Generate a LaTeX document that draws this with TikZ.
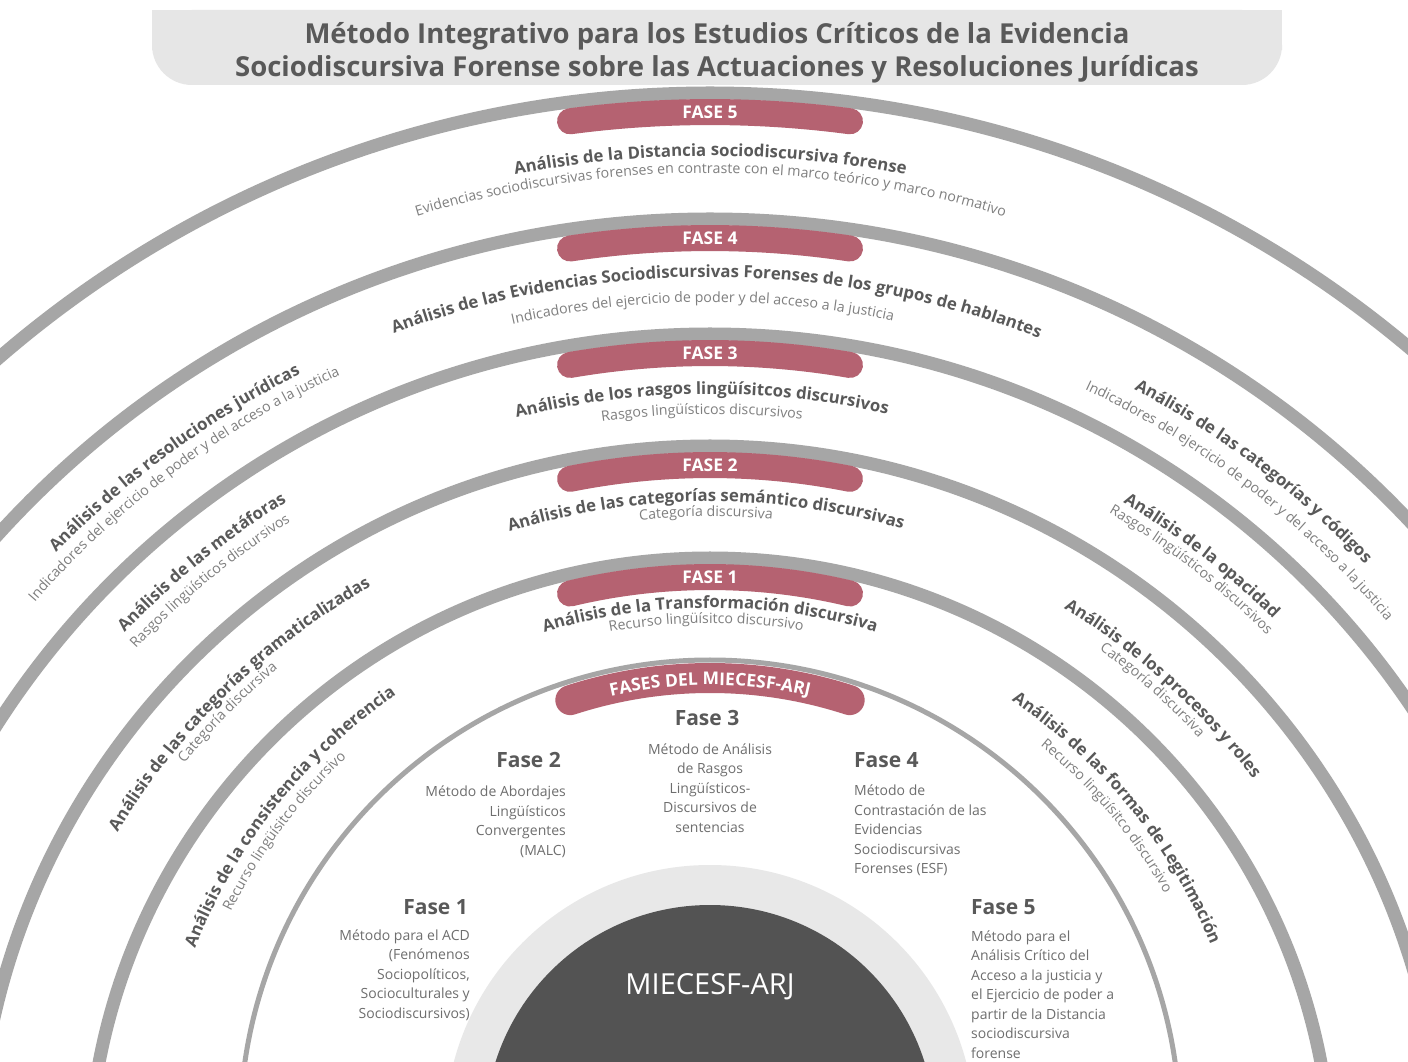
\documentclass[tikz,border=0pt]{standalone}
\usepackage{fontspec}
\setmainfont{Open Sans}
\usepackage{xcolor}
\usepackage{tikz}
\usetikzlibrary{decorations.text, positioning}

\definecolor{ringGray}{HTML}{A6A6A6}
\definecolor{capRed}{HTML}{B56271}
\definecolor{coreDark}{HTML}{535353}
\definecolor{coreLight}{HTML}{E8E8E8}
\definecolor{titleGray}{HTML}{E6E6E6}
\definecolor{labelGray}{HTML}{595959}
\definecolor{subGray}{HTML}{7F7F7F}
\definecolor{bodyGray}{HTML}{6E6E6E}

\def\outerCx{710}
\def\ringCy{-119}
\def\labelCy{-129}
\def\sideCy{-89}
\def\innerCy{-69}
\def\capHalf{140}

\newcommand{\labMain}{\bfseries\fontsize{16.8}{17}\selectfont\color{labelGray}}
\newcommand{\labSub}{\fontsize{14.2}{15}\selectfont\color{subGray}}
\newcommand{\labCap}{\bfseries\fontsize{17.5}{18}\selectfont\color{white}}

% text set along a clockwise arc, centred on angle #1
\newcommand{\arcText}[5]{%
  \pgfmathsetmacro{\arcFrom}{#1+#3}%
  \pgfmathsetmacro{\arcTo}{#1-#3}%
  \path[decorate, decoration={text along path, text align=center, text={|#4|#5}}]
    (\arcFrom:#2) arc[start angle=\arcFrom, end angle=\arcTo, radius=#2];%
}

\tikzset{
  ring/.style={draw=ringGray, line width=13pt},
  thin ring/.style={draw=ringGray, line width=5pt},
  cap band/.style={draw=capRed, line width=26pt, line cap=round},
  cap label/.style={inner sep=0pt, text=white, font=\bfseries\fontsize{17.5}{18}\selectfont},
  title text/.style={inner sep=0pt, align=center, text=labelGray, font=\bfseries\fontsize{27.5}{33}\selectfont},
  phase title/.style={inner sep=0pt, text=labelGray, font=\bfseries\fontsize{21}{21}\selectfont},
  phase body/.style={inner sep=0pt, text=bodyGray, font=\fontsize{14}{19.5}\selectfont},
}

\begin{document}
\begin{tikzpicture}[x=1pt, y=1pt]
  \useasboundingbox (0,0) rectangle (1408,1061);
  \fill[white] (0,0) rectangle (1408,1061);
  \clip (0,0) rectangle (1408,1061);

  % title banner
  \fill[titleGray, rounded corners=40pt] (152,976) rectangle (1282,1051);
  \fill[titleGray] (152,1011) rectangle (1282,1051);
  \node[title text] (title) at (717,1008) {Método Integrativo para los Estudios Críticos de la Evidencia\\Sociodiscursiva Forense sobre las Actuaciones y Resoluciones Jurídicas};

  % outer rings and phase caps
  \begin{scope}[shift={(\outerCx,\ringCy)}]
    \foreach \r in {1087,961,846,734,622} {
      \draw[ring] (0:\r) arc[start angle=0, end angle=180, radius=\r];
    }
    \foreach \r/\n in {1087/5,961/4,846/3,734/2,622/1} {
      \pgfmathsetmacro{\capR}{\r-19}
      \pgfmathsetmacro{\capA}{asin(\capHalf/\capR)}
      \pgfmathsetmacro{\capFrom}{90+\capA}
      \pgfmathsetmacro{\capTo}{90-\capA}
      \draw[cap band] (\capFrom:\capR) arc[start angle=\capFrom, end angle=\capTo, radius=\capR];
      \node[cap label] (fase\n) at (90:\capR) {FASE \n};
    }
  \end{scope}

  % ring labels
  \begin{scope}[shift={(\outerCx,\labelCy)}]
    % phase 5
    \arcText{90}{1034}{25}{\labMain}{Análisis de la Distancia sociodiscursiva forense}
    \arcText{90}{1017}{28}{\labSub}{Evidencias sociodiscursivas forenses en contraste con el marco teórico y marco normativo}
    % phase 4
    \arcText{89.6}{913}{28}{\labMain}{Análisis de las Evidencias Sociodiscursivas Forenses de los grupos de hablantes}
    \arcText{90.5}{888}{22}{\labSub}{Indicadores del ejercicio de poder y del acceso a la justicia}
    \arcText{126.2}{913}{20}{\labMain}{Análisis de las resoluciones jurídicas}
    \arcText{126.7}{895}{22}{\labSub}{Indicadores del ejercicio de poder y del acceso a la justicia}
    \arcText{52.9}{906}{20}{\labMain}{Análisis de las categorías y códigos}
    \arcText{52.5}{884}{22}{\labSub}{Indicadores del ejercicio de poder y del acceso a la justicia}
    % phase 3
    \arcText{90.6}{796}{20}{\labMain}{Análisis de los rasgos lingüísitcos discursivos}
    \arcText{90.6}{776}{20}{\labSub}{Rasgos lingüísticos discursivos}
    \arcText{129.0}{808}{20}{\labMain}{Análisis de las metáforas}
    \arcText{129.4}{789}{20}{\labSub}{Rasgos lingüísticos discursivos}
    \arcText{52.2}{802}{20}{\labMain}{Análisis de la opacidad}
    \arcText{52.2}{786}{20}{\labSub}{Rasgos lingüísticos discursivos}
    % phase 2
    \arcText{90.35}{688.5}{20}{\labMain}{Análisis de las categorías semántico discursivas}
    \arcText{90.35}{673.5}{20}{\labSub}{Categoría discursiva}
    \arcText{134.1}{692}{22}{\labMain}{Análisis de las categorías gramaticalizadas}
    \arcText{135.3}{677}{22}{\labSub}{Categoría discursiva}
    \arcText{47.9}{681}{22}{\labMain}{Análisis de los procesos y roles}
    \arcText{48.5}{666}{22}{\labSub}{Categoría discursiva}
    % phase 1
    \arcText{90}{582}{20}{\labMain}{Análisis de la Transformación discursiva}
    \arcText{90.4}{567}{20}{\labSub}{Recurso lingüísitco discursivo}
  \end{scope}

  % phase 1 side labels follow a slightly higher centre
  \begin{scope}[shift={(\outerCx,\sideCy)}]
    \arcText{141.6}{553}{24}{\labMain}{Análisis de la consistencia y coherencia}
    \arcText{143.2}{535}{24}{\labSub}{Recurso lingüísitco discursivo}
    \arcText{39.2}{541}{24}{\labMain}{Análisis de las formas de Legitimación}
    \arcText{40.1}{522}{24}{\labSub}{Recurso lingüísitco discursivo}
  \end{scope}

  % inner ring and core
  \begin{scope}[shift={(\outerCx,\innerCy)}]
    \draw[thin ring] (0:470) arc[start angle=0, end angle=180, radius=470];
    \draw[cap band, line width=30pt] (108:452) arc[start angle=108, end angle=72, radius=452];
    \arcText{90}{445}{30}{\labCap}{FASES DEL MIECESF-ARJ}
    \fill[coreLight] (0,0) circle[radius=265];
    \fill[coreDark] (0,0) circle[radius=225];
  \end{scope}
  \node[inner sep=0pt, text=white, font=\fontsize{29}{29}\selectfont] (core) at (710,74) {MIECESF-ARJ};

  % phase descriptions
  \node[phase title] (faseTres) at (707,343) {Fase 3};
  \node[phase body, align=center] (metodoTres) at (710,273) {Método de Análisis\\de Rasgos\\Lingüísticos-\\Discursivos de\\sentencias};
  \node[phase title, anchor=east] (faseDos) at (561,301) {Fase 2};
  \node[phase body, align=right, anchor=east] (metodoDos) at (566,239.5) {Método de Abordajes\\Lingüísticos\\Convergentes\\(MALC)};
  \node[phase title, anchor=west] (faseCuatro) at (854,301) {Fase 4};
  \node[phase body, align=left, anchor=west] (metodoCuatro) at (854,230.5) {Método de\\Contrastación de las\\Evidencias\\Sociodiscursivas\\Forenses (ESF)};
  \node[phase title, anchor=east] (faseUno) at (468,154) {Fase 1};
  \node[phase body, align=right, anchor=east] (metodoUno) at (470,86) {Método para el ACD\\(Fenómenos\\Sociopolíticos,\\Socioculturales y\\Sociodiscursivos)};
  \node[phase title, anchor=west] (faseCinco) at (971,154) {Fase 5};
  \node[phase body, align=left, anchor=west] (metodoCinco) at (971,66.5) {Método para el\\Análisis Crítico del\\Acceso a la justicia y\\el Ejercicio de poder a\\partir de la Distancia\\sociodiscursiva\\forense};
\end{tikzpicture}
\end{document}
